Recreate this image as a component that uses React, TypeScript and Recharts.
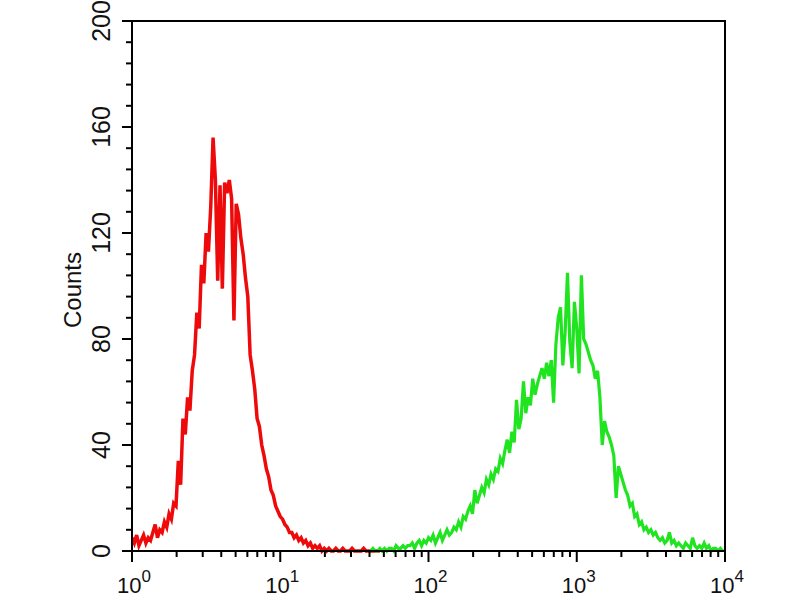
import { LineChart, Line, XAxis, YAxis, ReferenceArea } from 'recharts';

// histogram channels: 64 bins per decade, log scale 10^0 .. 10^4
const BINS_PER_DECADE = 64;

const redStartBin = 0;
const redCounts = [
  5, 3, 6, 2, 4, 6, 3, 5, 4, 7,
  10, 5, 8, 7, 11, 9, 14, 12, 18, 17,
  34, 25, 50, 44, 58, 53, 68, 74, 90, 84,
  108, 101, 120, 113, 130, 156, 140, 102, 138, 99,
  139, 135, 140, 133, 87, 131, 127, 118, 112, 103,
  96, 74, 68, 61, 50, 47, 40, 36, 31, 28,
  23, 21, 17, 15, 13, 12, 10, 9, 7, 7,
  5, 6, 4, 5, 3, 4, 2, 3, 1, 2,
  1, 2, 0, 1, 0, 1, 0, 0, 1, 0,
  0, 1, 0, 0, 0, 1, 0, 0, 0, 0,
  1, 0, 0, 0, 0, 0, 0, 0,
];

const greenStartBin = 103;
const greenCounts = [
  0, 1, 0, 0, 1, 0, 1, 0, 1,
  1, 0, 2, 1, 1, 2, 1, 2,
  2, 3, 1, 3, 4, 2, 4, 3,
  5, 4, 6, 3, 5, 7, 4, 6,
  8, 6, 7, 9, 8, 11, 9, 13,
  12, 15, 17, 14, 23, 18, 21, 24,
  22, 27, 25, 29, 27, 31, 30, 35,
  33, 38, 42, 37, 45, 41, 57, 46,
  50, 64, 52, 58, 55, 65, 59, 63,
  66, 69, 65, 71, 66, 72, 56, 78,
  88, 92, 70, 83, 105, 79, 69, 94,
  84, 67, 104, 80, 78, 75, 72, 70,
  65, 68, 58, 40, 49, 45, 43, 40,
  36, 20, 32, 29, 26, 23, 21, 17,
  18, 13, 14, 10, 11, 8, 9, 7,
  8, 6, 7, 5, 4, 5, 3, 4,
  7, 3, 4, 2, 3, 2, 1, 3,
  2, 1, 5, 2, 1, 2, 1, 3,
  1, 2, 0, 1, 1, 0, 1, 0,
];

const xTicks = [
  1, 2, 3, 4, 5, 6, 7, 8, 9,
  10, 20, 30, 40, 50, 60, 70, 80, 90,
  100, 200, 300, 400, 500, 600, 700, 800, 900,
  1000, 2000, 3000, 4000, 5000, 6000, 7000, 8000, 9000,
  10000,
];
const yTicks = [0, 8, 16, 24, 32, 40, 48, 56, 64, 72, 80, 88, 96, 104, 112, 120, 128, 136, 144, 152, 160, 168, 176, 184, 192, 200];
const yLabelStep = 40;

const FONT = '"Liberation Sans", Arial, sans-serif';

const toSeries = (start: number, counts: number[]) =>
  counts.map((c, i) => ({ x: Math.pow(10, (start + i) / BINS_PER_DECADE), count: c }));

const redData = toSeries(redStartBin, redCounts);
const greenData = toSeries(greenStartBin, greenCounts);

function XTick({ x, y, payload }: any) {
  const v = payload.value;
  const exp = Math.round(Math.log10(v));
  const major = Math.abs(v - Math.pow(10, exp)) < 1e-6;
  return (
    <g>
      <line x1={x} x2={x} y1={y} y2={y + (major ? 11 : 6)} stroke="#000" strokeWidth={2} />
      {major && (
        <text x={x + 2} y={y + 42} textAnchor="middle" fontSize={22} fontFamily={FONT} fill="#111">
          10<tspan dy={-11} fontSize={17}>{exp}</tspan>
        </text>
      )}
    </g>
  );
}

function YTick({ x, y, payload }: any) {
  const v = payload.value;
  const major = v % yLabelStep === 0;
  const tx = x - 22;
  return (
    <g>
      <line x1={x} x2={x - (major ? 10 : 6)} y1={y} y2={y} stroke="#000" strokeWidth={2} />
      {major && (
        <text x={tx} y={y} transform={`rotate(-90 ${tx} ${y})`} textAnchor="middle" fontSize={25} fontFamily={FONT} fill="#111">
          {v}
        </text>
      )}
    </g>
  );
}

function CountsLabel({ viewBox }: any) {
  const x = viewBox.x + 81;
  const y = viewBox.y + viewBox.height / 2 + 4;
  return (
    <text x={x} y={y} transform={`rotate(-90 ${x} ${y})`} textAnchor="middle" fontSize={24} fontFamily={FONT} fill="#111">
      Counts
    </text>
  );
}

export default function App() {
  return (
    <div style={{ position: 'absolute', left: 0, top: 0, width: 800, height: 600, background: '#fff' }}>
      <LineChart width={800} height={600} margin={{ top: 21, right: 75, left: 0, bottom: 0 }}>
        <XAxis
          type="number"
          dataKey="x"
          scale="log"
          domain={[1, 10000]}
          allowDataOverflow
          ticks={xTicks}
          interval={0}
          height={49}
          tickSize={0}
          tickMargin={0}
          tickLine={false}
          tick={<XTick />}
          axisLine={{ stroke: '#000', strokeWidth: 2 }}
        />
        <YAxis
          type="number"
          domain={[0, 200]}
          ticks={yTicks}
          interval={0}
          width={132}
          tickSize={0}
          tickMargin={0}
          tickLine={false}
          tick={<YTick />}
          axisLine={{ stroke: '#000', strokeWidth: 2 }}
          label={{ content: CountsLabel }}
        />
        <ReferenceArea x1={1} x2={10000} y1={0} y2={200} fill="none" stroke="#000" strokeWidth={2} ifOverflow="visible" />
        <Line data={redData} dataKey="count" type="linear" stroke="#ee0a0a" strokeWidth={3.5} strokeLinejoin="miter" dot={false} isAnimationActive={false} />
        <Line data={greenData} dataKey="count" type="linear" stroke="#1fe41f" strokeWidth={3.2} strokeLinejoin="miter" dot={false} isAnimationActive={false} />
      </LineChart>
    </div>
  );
}
